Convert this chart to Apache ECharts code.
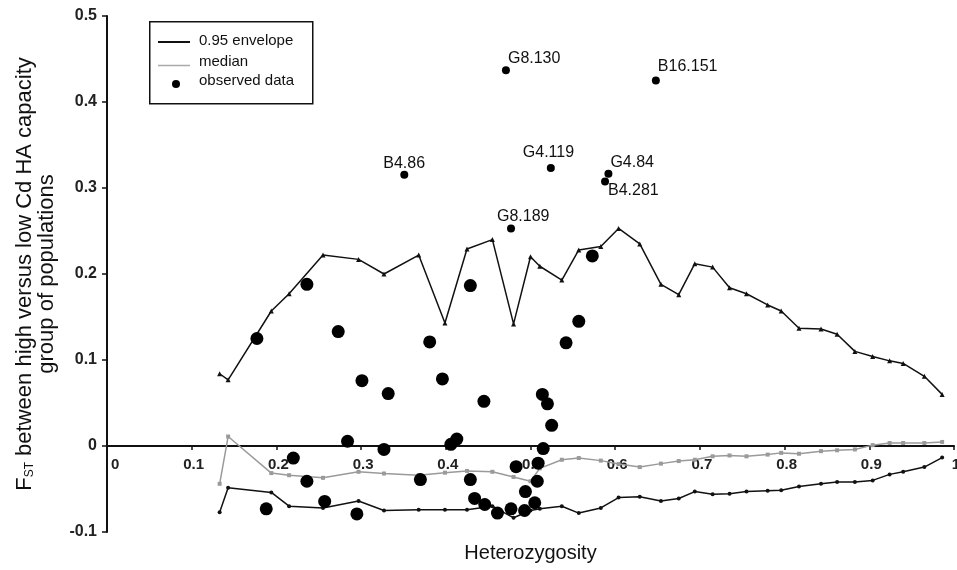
<!DOCTYPE html>
<html>
<head>
<meta charset="utf-8">
<script src="https://cdn.jsdelivr.net/npm/echarts@6/dist/echarts.min.js"></script>
<style>
  html, body { margin: 0; padding: 0; background: #fff; }
  #chart { width: 957px; height: 570px; }
</style>
</head>
<body>
<div id="chart"></div>
<script>
// ---- Data ----
var hetX = [0.133,0.143,0.194,0.215,0.255,0.297,0.327,0.368,0.399,0.425,0.455,0.480,0.500,0.511,0.537,0.557,0.583,0.604,0.629,0.654,0.675,0.694,0.715,0.735,0.755,0.780,0.796,0.817,0.843,0.862,0.883,0.904,0.924,0.940,0.965,0.986];
var upperEnv = [0.084,0.077,0.157,0.177,0.222,0.217,0.200,0.222,0.143,0.229,0.240,0.142,0.220,0.209,0.193,0.228,0.232,0.253,0.235,0.188,0.176,0.212,0.208,0.184,0.177,0.164,0.157,0.137,0.136,0.130,0.110,0.104,0.099,0.096,0.081,0.060];
var lowerEnv = [-0.077,-0.0485,-0.054,-0.070,-0.072,-0.064,-0.075,-0.074,-0.074,-0.074,-0.070,-0.0835,-0.075,-0.073,-0.070,-0.078,-0.072,-0.060,-0.059,-0.064,-0.061,-0.053,-0.056,-0.0555,-0.053,-0.052,-0.0515,-0.047,-0.044,-0.042,-0.042,-0.040,-0.033,-0.030,-0.0245,-0.0135];
var medianVals = [-0.044,0.011,-0.0315,-0.034,-0.037,-0.030,-0.032,-0.034,-0.031,-0.029,-0.030,-0.036,-0.041,-0.026,-0.016,-0.014,-0.017,-0.021,-0.0245,-0.0205,-0.0175,-0.016,-0.012,-0.011,-0.012,-0.010,-0.008,-0.009,-0.006,-0.005,-0.004,0.001,0.0035,0.0035,0.0035,0.0047];

var obsX = [0.177,0.236,0.273,0.301,0.332,0.284,0.327,0.429,0.381,0.557,0.542,0.573,0.396,0.445,0.514,0.520,0.525,0.413,0.406,0.515,0.220,0.236,0.370,0.429,0.483,0.509,0.508,0.494,0.434,0.446,0.461,0.477,0.493,0.505,0.188,0.257,0.295];
var obsY = [0.125,0.188,0.133,0.076,0.061,0.0055,-0.004,0.1865,0.121,0.145,0.120,0.221,0.078,0.052,0.060,0.049,0.024,0.008,0.002,-0.003,-0.014,-0.041,-0.039,-0.039,-0.024,-0.020,-0.041,-0.053,-0.061,-0.068,-0.078,-0.073,-0.075,-0.066,-0.073,-0.0645,-0.079];

var outNames = ['G8.130','B16.151','B4.86','G4.119','G4.84','B4.281','G8.189'];
var outX = [0.471,0.648,0.351,0.524,0.592,0.588,0.477];
var outY = [0.437,0.425,0.3155,0.3233,0.3167,0.3077,0.253];

var xTicks = { min: 0, max: 1, step: 0.1 };
var yTicks = { min: -0.1, max: 0.5, step: 0.1 };

// ---- Styling (kept separate from data) ----
var labelOffsets = {
  'G8.130': [6, -8], 'B16.151': [6, -10], 'B4.86': [-17, -7.5], 'G4.119': [-24, -11],
  'G4.84': [6, -7], 'B4.281': [7, 13], 'G8.189': [-10, -8]
};
var FONT = '"Liberation Sans", Arial, sans-serif';
var GRID_TOP = 16, GRID_BOTTOM = 38, H = 570;
// place the x axis line at y = 0 (distance from grid bottom, in px)
var zeroOffset = -(H - GRID_TOP - GRID_BOTTOM) * (0 - yTicks.min) / (yTicks.max - yTicks.min);

function zip(xs, ys) { return xs.map(function (x, i) { return [x, ys[i]]; }); }
function fmt(v) { var r = Math.round(v * 10) / 10; return r === 0 ? '0' : String(r); }

var chart = echarts.init(document.getElementById('chart'), null, { renderer: 'canvas' });

var option = {
  backgroundColor: '#ffffff',
  animation: false,
  grid: { left: 107, right: 3, top: GRID_TOP, bottom: GRID_BOTTOM, containLabel: false, outerBoundsMode: 'none' },
  xAxis: {
    type: 'value', min: xTicks.min, max: xTicks.max, interval: xTicks.step,
    position: 'bottom', offset: zeroOffset,
    name: 'Heterozygosity', nameLocation: 'middle', nameGap: 97,
    nameTextStyle: { fontFamily: FONT, fontSize: 20, color: '#111' },
    axisLine: { onZero: false, lineStyle: { color: '#111', width: 2 } },
    axisTick: { show: true, length: 4, lineStyle: { color: '#111', width: 1.5 } },
    axisLabel: { fontFamily: FONT, fontSize: 15, fontWeight: 'bold', color: '#222', margin: 11,
                 formatter: fmt, alignMinLabel: 'left', padding: [0, 0, 0, 4] },
    splitLine: { show: false }
  },
  yAxis: {
    type: 'value', min: yTicks.min, max: yTicks.max, interval: yTicks.step,
    name: '{f|F}{s|ST}{f| between high versus low Cd HA capacity}\n{f|group of populations}',
    nameLocation: 'middle', nameRotate: 90, nameGap: 49,
    nameTextStyle: {
      fontFamily: FONT, color: '#111',
      rich: {
        f: { fontFamily: FONT, fontSize: 22, lineHeight: 22, color: '#111' },
        s: { fontFamily: FONT, fontSize: 12, lineHeight: 12, verticalAlign: 'bottom', color: '#111' }
      }
    },
    axisLine: { onZero: false, lineStyle: { color: '#111', width: 2 } },
    axisTick: { show: true, length: 5, lineStyle: { color: '#111', width: 1.5 } },
    axisLabel: { fontFamily: FONT, fontSize: 16, fontWeight: 'bold', color: '#222', margin: 10, formatter: fmt },
    splitLine: { show: false }
  },
  series: [
    {
      name: 'median', type: 'line', data: zip(hetX, medianVals),
      symbol: 'rect', symbolSize: 4, showAllSymbol: true,
      lineStyle: { color: '#9a9a9a', width: 1.5 }, itemStyle: { color: '#9a9a9a' }, z: 2
    },
    {
      name: '0.95 envelope', type: 'line', data: zip(hetX, upperEnv),
      symbol: 'triangle', symbolSize: 5, showAllSymbol: true,
      lineStyle: { color: '#111', width: 1.5 }, itemStyle: { color: '#111' }, z: 3
    },
    {
      name: '0.95 envelope lower', type: 'line', data: zip(hetX, lowerEnv),
      symbol: 'circle', symbolSize: 4, showAllSymbol: true,
      lineStyle: { color: '#111', width: 1.5 }, itemStyle: { color: '#111' }, z: 3
    },
    {
      name: 'observed data', type: 'scatter', data: zip(obsX, obsY),
      symbol: 'circle', symbolSize: 13, itemStyle: { color: '#000', opacity: 1 }, z: 5
    },
    {
      name: 'observed outliers', type: 'scatter',
      data: outNames.map(function (n, i) {
        var off = labelOffsets[n];
        return {
          name: n, value: [outX[i], outY[i]],
          label: { show: true, position: off, align: 'left', verticalAlign: 'middle', formatter: n,
                   fontFamily: FONT, fontSize: 16, color: '#111' }
        };
      }),
      symbol: 'circle', symbolSize: 8, itemStyle: { color: '#000', opacity: 1 }, z: 6
    }
  ],
  graphic: [
    { type: 'rect', left: 149, top: 21, shape: { width: 163, height: 82 },
      style: { fill: '#fff', stroke: '#111', lineWidth: 1.5 }, z: 10 },
    { type: 'line', shape: { x1: 158, y1: 42, x2: 190, y2: 42 }, style: { stroke: '#111', lineWidth: 2 }, z: 11 },
    { type: 'line', shape: { x1: 158, y1: 65.5, x2: 190, y2: 65.5 }, style: { stroke: '#aaa', lineWidth: 1.5 }, z: 11 },
    { type: 'circle', shape: { cx: 176, cy: 84, r: 4 }, style: { fill: '#000' }, z: 11 },
    { type: 'text', left: 199, top: 33, style: { text: '0.95 envelope', font: '15px ' + FONT, fill: '#111' }, z: 11 },
    { type: 'text', left: 199, top: 54, style: { text: 'median', font: '15px ' + FONT, fill: '#111' }, z: 11 },
    { type: 'text', left: 199, top: 73, style: { text: 'observed data', font: '15px ' + FONT, fill: '#111' }, z: 11 }
  ]
};
chart.setOption(option);
</script>
</body>
</html>
